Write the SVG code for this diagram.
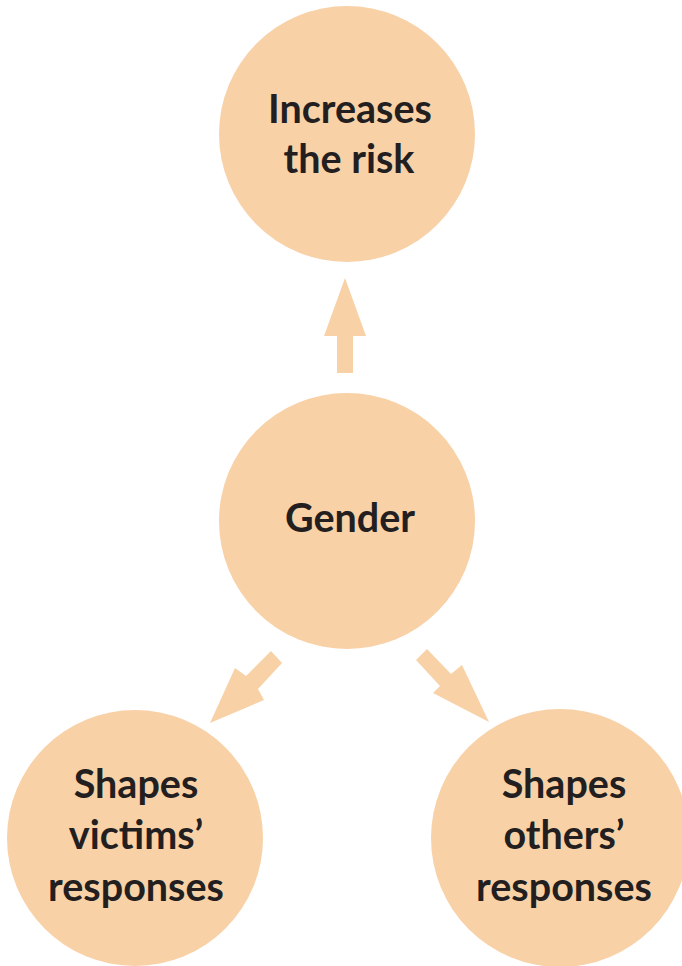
<svg xmlns="http://www.w3.org/2000/svg" width="682" height="966" viewBox="0 0 682 966">
<style>
.c{fill:#F8D1A7}
.a{fill:#F8D1A7}
text{font-family:Lato,"Open Sans","Liberation Sans",sans-serif;font-weight:bold;font-size:39.5px;fill:#231F20;text-anchor:middle}
</style>
<rect width="682" height="966" fill="#ffffff"/>
<g id="risk"><circle class="c" cx="347" cy="134" r="128"/><text x="350" y="123">Increases</text><text x="349" y="173">the risk</text></g>
<g id="gender"><circle class="c" cx="347" cy="521" r="128"/><text x="350" y="532">Gender</text></g>
<g id="victims"><circle class="c" cx="135" cy="838" r="128"/><text x="136" y="798">Shapes</text><text x="136" y="849">victims’</text><text x="136" y="901">responses</text></g>
<g id="others"><circle class="c" cx="560" cy="838" r="129"/><text x="564" y="798">Shapes</text><text x="564" y="849">others’</text><text x="564" y="901">responses</text></g>
<g id="connectors">
<polygon class="a" points="337,373 353,373 353,336 366,336 345,278 324,336 337,336"/>
<polygon class="a" points="271,651 282,663 258,689 264,700 210,723 235,668 246,676"/>
<polygon class="a" points="427,649 416,660 440,686 433,693 489,722 462,665 451,674"/>
</g>
</svg>
